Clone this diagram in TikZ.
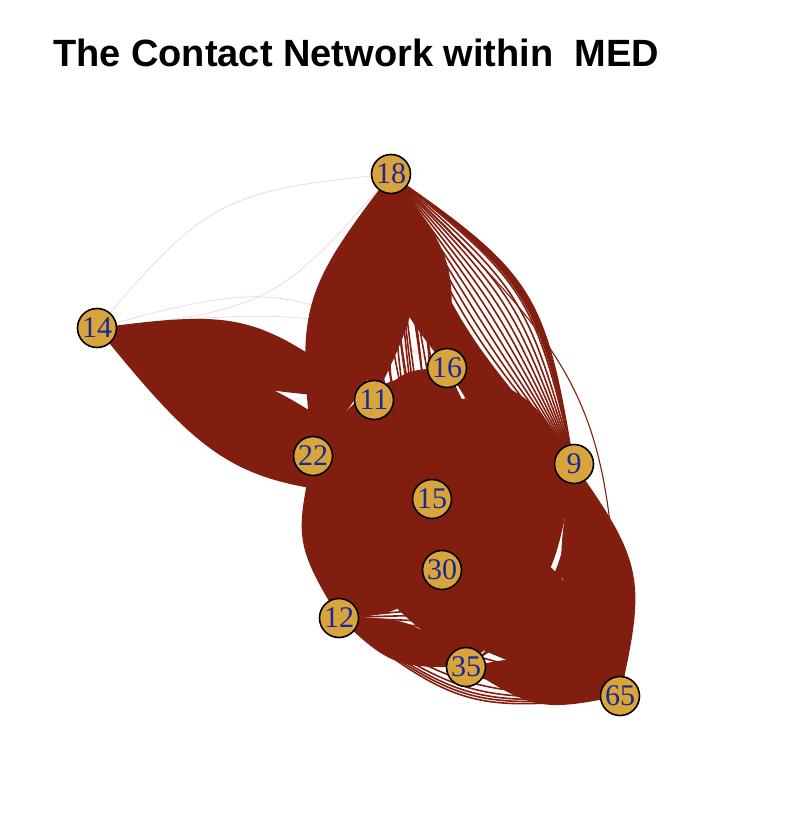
\documentclass[tikz,border=0pt]{standalone}
\usepackage{fontspec}
\setmainfont{Liberation Serif}
\newfontfamily\titlefont{Liberation Sans}
\usetikzlibrary{backgrounds}
\definecolor{edgecol}{RGB}{130,30,16}
\definecolor{nodefill}{RGB}{217,164,59}
\definecolor{labcol}{RGB}{26,40,150}
\definecolor{faint}{RGB}{230,216,216}
\newcommand\lens[4]{\fill[edgecol] (#1.center) to[lb=#3] (#2.center) to[lb=#4] (#1.center) -- cycle;}
\newcommand\strp[3]{\foreach \bb in {#3} {\draw[edgeline] (#1.center) to[lb=\bb] (#2.center);}}
\newcommand\fnt[2]{\foreach \bb in {-22,22} {\draw[faintline] (#1.center) to[lb=\bb] (#2.center);}}
\begin{document}
\begin{tikzpicture}[x=1pt,y=-1pt,
  vtx/.style={circle, draw=black, line width=1.6pt, fill=nodefill, minimum size=39pt, inner sep=0pt, text=labcol, font=\fontsize{30}{30}\selectfont},
  edgeline/.style={draw=edgecol, line width=1.6pt},
  thinedge/.style={draw=edgecol, line width=1.1pt},
  faintline/.style={draw=faint, line width=0.7pt},
  lb/.style={bend left=#1, looseness=1.3}]
\useasboundingbox (0,0) rectangle (792,826);
\node[anchor=base west, inner sep=0pt, font=\titlefont\bfseries\fontsize{38}{38}\selectfont] (title) at (53,67) {The Contact Network within\ \ MED};

\node[vtx] (n18) at (391,174) {18};
\node[vtx] (n14) at (97,328) {14};
\node[vtx] (n16) at (447,368) {16};
\node[vtx] (n11) at (374,400) {11};
\node[vtx] (n22) at (313,456) {22};
\node[vtx] (n9) at (574,464) {9};
\node[vtx] (n15) at (432,499) {15};
\node[vtx] (n30) at (442,570) {30};
\node[vtx] (n12) at (339,618) {12};
\node[vtx] (n35) at (466,667) {35};
\node[vtx] (n65) at (620,696) {65};

\begin{scope}[on background layer]
  % faint, rarely used contacts
  \fnt{n14}{n18}
  \fnt{n14}{n16}
  \fnt{n14}{n9}
  % dense contact bundles
  \lens{n14}{n11}{22}{10}
  \lens{n14}{n15}{10}{24}
  \lens{n18}{n22}{22}{22}
  \lens{n18}{n11}{22}{22}
  \lens{n18}{n16}{22}{22}
  \lens{n18}{n9}{-8}{22}
  \lens{n18}{n9}{23}{-19.5}
  \lens{n11}{n16}{22}{22}
  \lens{n11}{n22}{22}{22}
  \lens{n11}{n15}{22}{22}
  \lens{n11}{n9}{22}{22}
  \lens{n11}{n30}{22}{22}
  \lens{n11}{n12}{22}{22}
  \lens{n11}{n35}{22}{22}
  \lens{n16}{n9}{22}{22}
  \lens{n16}{n15}{22}{22}
  \lens{n16}{n30}{22}{22}
  \lens{n16}{n22}{22}{22}
  \lens{n16}{n35}{22}{22}
  \lens{n16}{n12}{22}{22}
  \lens{n22}{n15}{22}{22}
  \lens{n22}{n12}{22}{22}
  \lens{n22}{n30}{22}{22}
  \lens{n22}{n9}{22}{22}
  \lens{n22}{n35}{22}{15}
  \lens{n22}{n65}{22}{22}
  \lens{n9}{n15}{22}{22}
  \lens{n9}{n30}{22}{22}
  \lens{n9}{n12}{22}{22}
  \lens{n9}{n35}{19}{22}
  \lens{n9}{n35}{30}{-23}
  \lens{n9}{n65}{24}{22}
  \lens{n15}{n30}{22}{22}
  \lens{n15}{n12}{22}{22}
  \lens{n15}{n35}{22}{22}
  \lens{n15}{n65}{22}{22}
  \lens{n30}{n12}{22}{22}
  \lens{n30}{n35}{22}{22}
  \lens{n30}{n65}{22}{22}
  \lens{n12}{n35}{22}{22}
  \lens{n35}{n65}{22}{22}
  % sparser bundles, visible as single curves
  \strp{n18}{n9}{-6,-3.5,-1,1.5,4,6.5,9,11.5,14,16.5,19}
  \strp{n18}{n15}{-21,-17,-13,-9,-5,-1,3,7,11,15,19}
  \strp{n18}{n30}{-18,-14,-10,-6,-2,2,6,10,14,18}
  \strp{n18}{n35}{-16,-10,-4,2,8,14}
  \strp{n12}{n65}{-22,-20.5,-19,-17,-14,-10,-5,0,5,10,14,18,22}
  \foreach \bb in {-22,22} {\draw[thinedge] (n18.center) to[lb=\bb] (n65.center);}
\end{scope}
\end{tikzpicture}
\end{document}
